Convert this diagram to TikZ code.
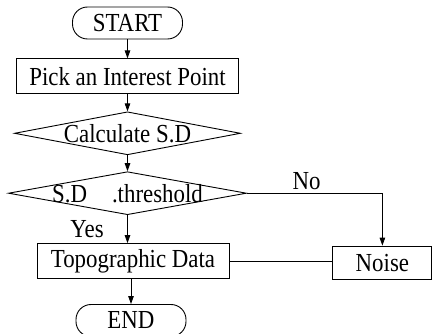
\documentclass[tikz,border=0pt]{standalone}
\usepackage{fontspec}
\setmainfont{Liberation Serif}[FakeStretch=0.88]
\usetikzlibrary{shapes.geometric, arrows.meta, positioning}

\begin{document}
\begin{tikzpicture}[node distance=18pt and 100pt, auto,
				font=\fontsize{26}{28}\selectfont, line width=0.9pt,
				terminal/.style={draw, rounded corners=15pt, minimum width=110pt, minimum height=32pt, inner sep=0pt},
				box/.style={draw, minimum height=35pt, inner sep=0pt},
				decision/.style={draw, diamond, minimum height=43pt, inner sep=0pt},
				arrow/.style={-{Triangle[length=8pt, width=5.5pt]}}]
				
				\useasboundingbox (0,0) rectangle (432pt,-334pt);
				
				\node[terminal] (start) at (127.5pt,-23pt) {START};
				\node[box, minimum width=222pt, below=19pt of start] (pick) {Pick an Interest Point};
				\node[decision, minimum width=226pt, below=17pt of pick, label=center:{Calculate S.D}] (calc) {};
				\node[decision, minimum width=238pt, below=16pt of calc, label=center:{S.D\hspace{25pt}.threshold}] (thr) {};
				
				\node[box, minimum width=192pt, below=28pt of thr, xshift=5.5pt] (topo) {Topographic Data};
				\node[box, minimum width=99pt, minimum height=33pt, right=103pt of topo, yshift=-1.5pt] (noise) {Noise};
				
				\node[terminal, below=25pt of topo, xshift=-2pt] (end) {END};
				
				\draw[arrow] (start) -- (pick);
				\draw[arrow] (pick) -- (calc);
				\draw[arrow] (calc) -- (thr);
				\draw[arrow] (thr) -- node[left=20pt] {Yes} (thr |- topo.north);
				\draw[arrow] (thr.east) -| node[pos=0.22, above] {No} (noise.north);
				\draw (topo) -- (topo -| noise.west);
				\draw[arrow] (topo.south -| end) -- (end);
			\end{tikzpicture}
\end{document}
